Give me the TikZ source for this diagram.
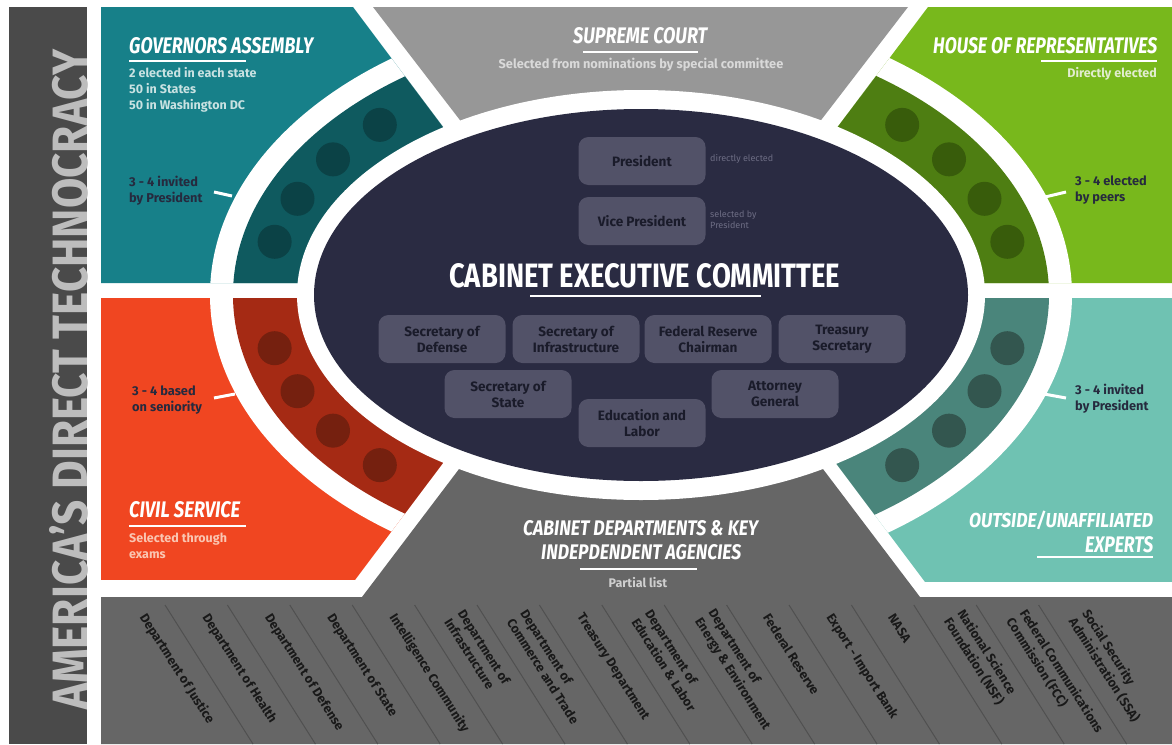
\documentclass[tikz,border=0pt]{standalone}
\usepackage{fontspec}
\setmainfont{Fira Sans}
\newfontfamily\headfont{Fira Sans}
\usepackage{graphicx}

\definecolor{barGray}{HTML}{4A4A4A}
\definecolor{barText}{HTML}{BDBDBD}
\definecolor{topGray}{HTML}{979797}
\definecolor{botGray}{HTML}{666666}
\definecolor{lineGray}{HTML}{505050}
\definecolor{lightGray}{HTML}{CFCFCF}
\definecolor{scSub}{HTML}{D9D9D9}
\definecolor{navy}{HTML}{2A2B42}
\definecolor{boxFill}{HTML}{525268}
\definecolor{boxText}{HTML}{1A1B2A}
\definecolor{ink}{HTML}{262A3E}
\definecolor{faint}{HTML}{6D6D84}
\definecolor{govTeal}{HTML}{178089}
\definecolor{govBand}{HTML}{0F5A5F}
\definecolor{govDot}{HTML}{0B4246}
\definecolor{govSub}{HTML}{C9E2E2}
\definecolor{houseGreen}{HTML}{78B81C}
\definecolor{houseBand}{HTML}{4E7E12}
\definecolor{houseDot}{HTML}{385C0B}
\definecolor{houseSub}{HTML}{E2EDD0}
\definecolor{civOrange}{HTML}{F04621}
\definecolor{civBand}{HTML}{A52A14}
\definecolor{civDot}{HTML}{75200F}
\definecolor{civSub}{HTML}{FAC6B2}
\definecolor{expTeal}{HTML}{6FC2B2}
\definecolor{expBand}{HTML}{4A857B}
\definecolor{expDot}{HTML}{33564F}

% squeezed headings: width, cap height, text
\newcommand{\headtxt}[3]{\resizebox{#1pt}{#2pt}{\headfont\bfseries\itshape #3}}
\newcommand{\headup}[3]{\resizebox{#1pt}{#2pt}{\headfont\bfseries #3}}

\begin{document}
\begin{tikzpicture}[x=1pt,y=-1pt,
	headnode/.style={anchor=base west, inner sep=0pt, text=white},
	subtxt/.style={inner sep=0pt, align=left, font=\bfseries\fontsize{12.5}{16}\selectfont},
	notetxt/.style={anchor=west, inner sep=0pt, align=left, text=ink, font=\bfseries\fontsize{12.8}{16}\selectfont},
	uline/.style={white, line width=2pt},
	tickline/.style={white, line width=3pt},
	cbox/.style={fill=boxFill, rounded corners=10pt, minimum width=127pt, minimum height=48pt, inner sep=2pt, align=center, text=boxText, font=\bfseries\fontsize{13.6}{16}\selectfont},
	faintnote/.style={anchor=west, inner sep=0pt, align=left, text=faint, font=\fontsize{9}{11}\selectfont},
	dept/.style={anchor=west, rotate=-57.5, inner sep=0pt, align=left, text=black!90, font=\bfseries\fontsize{12.8}{16}\selectfont},
	deptline/.style={lineGray, line width=1pt}]

	% page
	\useasboundingbox (0,0) rectangle (1172,744);
	\fill[white] (0,0) rectangle (1172,744);

	% side bar
	\fill[barGray] (9,7) rectangle (87,744);
	\node[rotate=90, anchor=base west, inner sep=0pt, text=barText] (brand) at (87,710) {\headup{660}{38}{AMERICA’S DIRECT TECHNOCRACY}};

	% governors assembly
	\begin{scope}
		\clip (101,7)--(353,7)--(560,283)--(101,283)--cycle;
		\fill[govTeal] (101,7) rectangle (641,295);
		\fill[white] (641,295) ellipse[x radius=431pt, y radius=290pt];
		\fill[govBand] (641,295) ellipse[x radius=408pt, y radius=268pt];
	\end{scope}

	% house of representatives
	\begin{scope}
		\clip (928,7)--(1172,7)--(1172,283)--(720,283)--cycle;
		\fill[houseGreen] (641,7) rectangle (1172,295);
		\fill[white] (641,295) ellipse[x radius=431pt, y radius=290pt];
		\fill[houseBand] (641,295) ellipse[x radius=408pt, y radius=268pt];
	\end{scope}

	% civil service
	\begin{scope}
		\clip (101,298)--(567,298)--(355,580)--(101,580)--cycle;
		\fill[civOrange] (101,295) rectangle (641,580);
		\fill[white] (641,295) ellipse[x radius=431pt, y radius=290pt];
		\fill[civBand] (641,295) ellipse[x radius=408pt, y radius=268pt];
	\end{scope}

	% outside experts
	\begin{scope}
		\clip (712,298)--(1172,298)--(1172,582)--(925,582)--cycle;
		\fill[expTeal] (641,295) rectangle (1172,582);
		\fill[white] (641,295) ellipse[x radius=431pt, y radius=290pt];
		\fill[expBand] (641,295) ellipse[x radius=408pt, y radius=268pt];
	\end{scope}

	% supreme court and departments
	\fill[topGray] (373,7)--(908,7)--(640.5,355)--cycle;
	\fill[botGray] (101,597)--(362,597)--(641,229)--(920,597)--(1172,597)--(1172,744)--(101,744)--cycle;

	% committee
	\fill[white] (641,295) ellipse[x radius=344pt, y radius=205pt];
	\fill[navy] (641,295) ellipse[x radius=327pt, y radius=186pt];

	% seats
	\fill[govDot] ({641+376*cos(134)},{295-236.5*sin(134)}) circle[radius=17pt];
	\fill[govDot] ({641+376*cos(145)},{295-236.5*sin(145)}) circle[radius=17pt];
	\fill[govDot] ({641+376*cos(156)},{295-236.5*sin(156)}) circle[radius=17pt];
	\fill[govDot] ({641+376*cos(167)},{295-236.5*sin(167)}) circle[radius=17pt];
	\fill[houseDot] ({641+376*cos(46)},{295-236.5*sin(46)}) circle[radius=17pt];
	\fill[houseDot] ({641+376*cos(35)},{295-236.5*sin(35)}) circle[radius=17pt];
	\fill[houseDot] ({641+376*cos(24)},{295-236.5*sin(24)}) circle[radius=17pt];
	\fill[houseDot] ({641+376*cos(13)},{295-236.5*sin(13)}) circle[radius=17pt];
	\fill[civDot] ({641+376*cos(193)},{295-236.5*sin(193)}) circle[radius=17pt];
	\fill[civDot] ({641+376*cos(204)},{295-236.5*sin(204)}) circle[radius=17pt];
	\fill[civDot] ({641+376*cos(215)},{295-236.5*sin(215)}) circle[radius=17pt];
	\fill[civDot] ({641+376*cos(226)},{295-236.5*sin(226)}) circle[radius=17pt];
	\fill[expDot] ({641+376*cos(314)},{295-236.5*sin(314)}) circle[radius=17pt];
	\fill[expDot] ({641+376*cos(325)},{295-236.5*sin(325)}) circle[radius=17pt];
	\fill[expDot] ({641+376*cos(336)},{295-236.5*sin(336)}) circle[radius=17pt];
	\fill[expDot] ({641+376*cos(347)},{295-236.5*sin(347)}) circle[radius=17pt];

	% governors text
	\node[headnode] (govT) at (129,53) {\headtxt{184}{16}{GOVERNORS ASSEMBLY}};
	\draw[uline] (129,61)--(246,61);
	\node[subtxt, anchor=west, text=govSub] (govS) at (129,90) {2 elected in each state\\50 in States\\50 in Washington DC};
	\node[notetxt] (govN) at (129,191) {3 - 4 invited\\by President};
	\draw[tickline] (214,192)--(232,196);

	% supreme court text
	\node[headnode] (scT) at (573,43) {\headtxt{134}{16}{SUPREME COURT}};
	\draw[uline] (583,52)--(698,52);
	\node[subtxt, anchor=center, text=scSub, font=\bfseries\fontsize{12.8}{16}\selectfont] (scS) at (641,65) {Selected from nominations by special committee};

	% house text
	\node[headnode] (houseT) at (933,53) {\headtxt{224}{16}{HOUSE OF REPRESENTATIVES}};
	\draw[uline] (1041,61)--(1157,61);
	\node[subtxt, anchor=east, text=houseSub] (houseS) at (1157,74) {Directly elected};
	\node[notetxt] (houseN) at (1075,190) {3 - 4 elected\\by peers};
	\draw[tickline] (1045,197)--(1066,192);

	% civil service text
	\node[notetxt] (civN) at (132,400) {3 - 4 based\\on seniority};
	\draw[tickline] (214,398)--(235,394);
	\node[headnode] (civT) at (129,517) {\headtxt{111}{16}{CIVIL SERVICE}};
	\draw[uline] (129,526)--(246,526);
	\node[subtxt, anchor=west, text=civSub] (civS) at (129,546) {Selected through\\exams};

	% experts text
	\node[notetxt] (expN) at (1075,399) {3 - 4 invited\\by President};
	\draw[tickline] (1044,394)--(1066,398);
	\node[headnode] (expT) at (969,527) {\headtxt{184}{16.5}{OUTSIDE/UNAFFILIATED}};
	\node[headnode] (expT2) at (1085,552) {\headtxt{68}{16}{EXPERTS}};
	\draw[uline] (1037,557)--(1153,557);

	% departments text
	\node[headnode] (depT) at (523,535) {\headtxt{235}{15}{CABINET DEPARTMENTS \& KEY}};
	\node[headnode] (depT2) at (541,559) {\headtxt{200}{15}{INDEPDENDENT AGENCIES}};
	\draw[uline] (580,569)--(697,569);
	\node[subtxt, anchor=center, text=lightGray] (depS) at (638,583) {Partial list};

	% committee members
	\node[headnode] (cecT) at (449,287) {\headup{391}{24}{CABINET EXECUTIVE COMMITTEE}};
	\draw[uline] (530,296)--(761,296);
	\node[cbox] (pres) at (642,161) {President};
	\node[faintnote] (presN) at (710,159) {directly elected};
	\node[cbox] (vp) at (642,221) {Vice President};
	\node[faintnote] (vpN) at (710,220) {selected by\\President};
	\node[cbox] (sdef) at (442,339) {Secretary of\\Defense};
	\node[cbox] (sinf) at (576,339) {Secretary of\\Infrastructure};
	\node[cbox] (fed) at (708,339) {Federal Reserve\\Chairman};
	\node[cbox] (tre) at (842,339) {Treasury\\Secretary};
	\node[cbox] (sst) at (508,394) {Secretary of\\State};
	\node[cbox] (att) at (775,394) {Attorney\\General};
	\node[cbox] (edu) at (642,423) {Education and\\Labor};

	% department list
	\foreach \k in {0,...,14}
		\draw[deptline] ({165+62.4*\k},605) -- ++(88,139);
	\node[dept] (d1) at (142.5,615) {Department of Justice};
	\node[dept] (d2) at (204.9,615) {Department of Health};
	\node[dept] (d3) at (267.3,615) {Department of Defense};
	\node[dept] (d4) at (329.7,615) {Department of State};
	\node[dept] (d5) at (392.1,615) {Intelligence Community};
	\node[dept] (d6) at (454.5,615) {Department of\\Infrastructure};
	\node[dept] (d7) at (516.9,615) {Department of\\Commerce and Trade};
	\node[dept] (d8) at (579.3,615) {Treasury Department};
	\node[dept] (d9) at (641.7,615) {Department of\\Education \& Labor};
	\node[dept] (d10) at (704.1,615) {Department of\\Energy \& Environment};
	\node[dept] (d11) at (766.5,615) {Federal Reserve};
	\node[dept] (d12) at (828.9,615) {Export - Import Bank};
	\node[dept] (d13) at (891.3,615) {NASA};
	\node[dept] (d14) at (953.7,615) {National Science\\Foundation (NSF)};
	\node[dept] (d15) at (1016.1,615) {Federal Communications\\Commission (FCC)};
	\node[dept] (d16) at (1078.5,615) {Social Security\\Administration (SSA)};

\end{tikzpicture}
\end{document}
